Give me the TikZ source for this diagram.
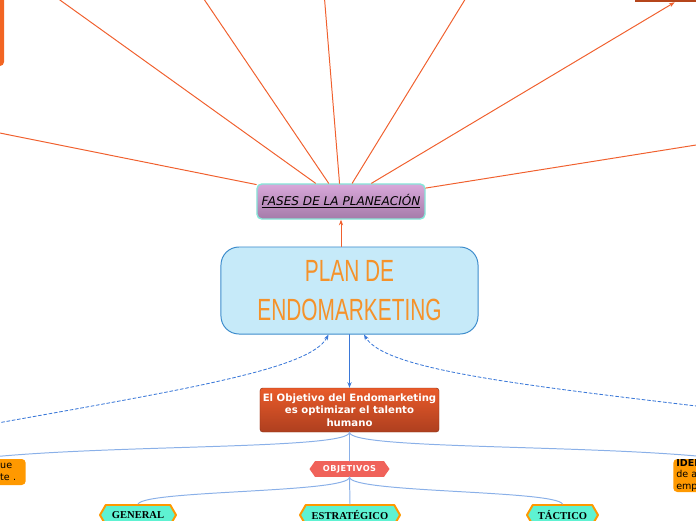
\documentclass[tikz,border=0pt]{standalone}
\usepackage{fontspec}
\usetikzlibrary{arrows.meta,calc,shapes.symbols}
\newfontfamily\dejavu{DejaVu Sans}
\newfontfamily\tagfont[LetterSpace=6]{DejaVu Sans}
\newfontfamily\handfont[FakeStretch=0.68]{Liberation Sans}
\newfontfamily\serifbold{Liberation Serif}
\definecolor{rayline}{HTML}{F0602E}
\definecolor{phasetop}{HTML}{D9A8DA}
\definecolor{phasebot}{HTML}{A47BA9}
\definecolor{phaseedge}{HTML}{86E6D8}
\definecolor{planfill}{HTML}{C6EAF9}
\definecolor{planedge}{HTML}{3D8CCC}
\definecolor{plantext}{HTML}{F5922A}
\definecolor{goaltop}{HTML}{E95B2A}
\definecolor{goalbot}{HTML}{AE3F1F}
\definecolor{tagfill}{HTML}{F0625A}
\definecolor{kindfill}{HTML}{5EF2D2}
\definecolor{noteorange}{HTML}{FF9900}
\definecolor{linkblue}{HTML}{3A78D8}
\definecolor{branchblue}{HTML}{8AB0E8}
\definecolor{darkbar}{HTML}{B5451B}
\definecolor{phaseorange}{HTML}{F26522}
\tikzset{
  every picture/.style={line join=round, line cap=round, >=Stealth},
  ray/.style={draw=rayline, line width=0.7pt, -{Stealth[length=4pt,width=3pt]}},
  uplink/.style={draw=rayline, line width=0.7pt, -{Stealth[length=4pt,width=3pt]}},
  downlink/.style={draw=linkblue, line width=0.7pt, -{Stealth[length=4pt,width=3pt]}},
  backlink/.style={draw=linkblue, line width=0.6pt, dash pattern=on 2.2pt off 1.6pt, -{Stealth[length=4pt,width=3pt]}},
  branch/.style={draw=branchblue, line width=0.7pt},
  phasebox/.style={top color=phasetop, bottom color=phasebot, draw=phaseedge, line width=1pt,
    rounded corners=0.12cm, minimum width=4.2cm, minimum height=0.875cm, inner sep=0pt,
    font=\dejavu\itshape\fontsize{8.6}{10}\selectfont},
  planbox/.style={fill=planfill, draw=planedge, line width=0.7pt, rounded corners=0.45cm,
    minimum width=6.425cm, minimum height=2.175cm, inner sep=0pt, align=center,
    text=plantext, font=\handfont\fontsize{21.8}{27.6}\selectfont},
  goalbox/.style={top color=goaltop, bottom color=goalbot, draw=goalbot!80!black, line width=0.3pt,
    rounded corners=0.07cm, minimum width=4.475cm, minimum height=1.1cm, inner sep=0pt,
    align=center, text=white, font=\dejavu\bfseries\fontsize{7.2}{8.9}\selectfont},
  tagbox/.style={shape=signal, signal to=west and east, signal pointer angle=110, fill=tagfill,
    minimum width=2.0cm, minimum height=0.39cm, inner sep=0pt,
    text=white, font=\tagfont\bfseries\fontsize{5.8}{7}\selectfont},
  kindbox/.style={shape=signal, signal to=west and east, signal pointer angle=120, fill=kindfill,
    draw=noteorange, line width=1.4pt, minimum height=0.5cm, inner sep=0pt,
    font=\serifbold\bfseries\fontsize{7.5}{9}\selectfont},
  notebox/.style={fill=noteorange, rounded corners=0.1cm, text width=2.35cm, inner xsep=0.075cm,
    inner ysep=0pt, font=\dejavu\fontsize{6.8}{8.2}\selectfont},
}
\begin{document}
\begin{tikzpicture}[x=0.025cm,y=-0.025cm]
\useasboundingbox (0,0) rectangle (696,520);
\clip (0,0) rectangle (696,520);
% ends of the rays that run off the page
\coordinate (r1) at (-40,125);
\coordinate (r2) at (32,-20);
\coordinate (r3) at (191,-20);
\coordinate (r4) at (323,-20);
\coordinate (r5) at (477,-20);
\coordinate (r7) at (740,138);
\coordinate (dl) at (-30,428);
\coordinate (dr) at (730,410);
% nodes
\node[fill=phaseorange, rounded corners=0.1cm, minimum width=1.1cm, minimum height=2.15cm] (fase0) at (-18,23) {};
\node[fill=darkbar, minimum width=3.85cm, minimum height=1.1cm] (fase6) at (712,-20) {};
\node[phasebox] (fases) at (341,201.5) {\underline{FASES DE LA PLANEACIÓN}};
\node[planbox] (plan) at (349.5,290.5) {PLAN DE\\ENDOMARKETING};
\node[goalbox] (goal) at (349.5,410) {El Objetivo del Endomarketing\\es optimizar el talento\\humano};
\node[tagbox] (objetivos) at (349.5,469) {OBJETIVOS};
\node[kindbox, minimum width=1.9cm] (general) at (138,515) {GENERAL};
\node[kindbox, minimum width=2.5cm] (estrategico) at (350,515) {ESTRATÉGICO};
\node[kindbox, minimum width=1.775cm] (tactico) at (562.5,515) {TÁCTICO};
\node[notebox, anchor=east, align=right, minimum height=0.65cm] (noteleft) at (26,472)
  {\makebox[16pt][l]{ue}\\\makebox[16pt][l]{te .}};
\node[notebox, anchor=west, align=left, minimum height=0.825cm] (noteright) at (673,475.5)
  {\textbf{IDEN}\\de a\\empl};
% rays of the phases
\draw[ray] (fases) -- (r1);
\draw[ray] (fases) -- (r2);
\draw[ray] (fases) -- (r3);
\draw[ray] (fases) -- (r4);
\draw[ray] (fases) -- (r5);
\draw[ray] (fases) -- (fase6);
\draw[ray] (fases) -- (r7);
\draw[uplink] (plan.north -| fases.south) -- (fases.south);
\draw[downlink] (plan) -- (goal);
\draw[backlink] (dl) .. controls (180,390) and (310,370) .. ($(plan.south)+(-21,0)$);
\draw[backlink] (dr) .. controls (520,385) and (385,370) .. ($(plan.south)+(14.5,0)$);
% branches
\draw[branch] (goal.south) -- (objetivos.north);
\draw[branch] (goal.south) .. controls (349.5,450) and (100,444) .. (noteleft.north);
\draw[branch] (goal.south) .. controls (349.5,450) and (600,444) .. (noteright.north);
\draw[branch] (objetivos.south) -- (estrategico.north);
\draw[branch] (objetivos.south) .. controls (349.5,493) and (145,490) .. (general.north);
\draw[branch] (objetivos.south) .. controls (349.5,493) and (555,490) .. (tactico.north);
\end{tikzpicture}
\end{document}
